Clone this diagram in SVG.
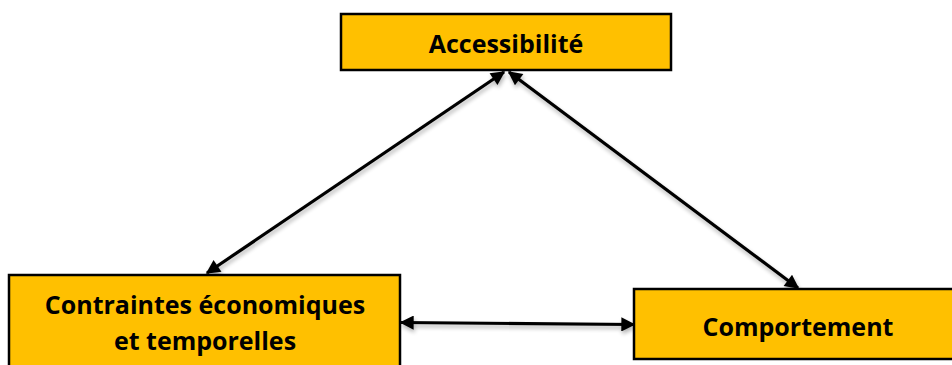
<svg xmlns="http://www.w3.org/2000/svg" width="952" height="365" viewBox="0 0 952 365">
<defs>
<style>
.box{fill:#FFC000;stroke:#000;stroke-width:2.5}
.lbl{font-family:"Open Sans","Noto Sans","DejaVu Sans",sans-serif;font-weight:bold;font-size:25px;fill:#000;text-anchor:middle}
.con{stroke:#000;stroke-width:3.2;fill:none;marker-start:url(#ah);marker-end:url(#ah)}
</style>
<marker id="ah" viewBox="0 0 10 10" refX="9" refY="5" markerWidth="5" markerHeight="4.4" orient="auto-start-reverse" markerUnits="strokeWidth">
<path d="M0,0 L10,5 L0,10 z" fill="#000"/>
</marker>
<filter id="sh" x="-10%" y="-10%" width="120%" height="130%">
<feGaussianBlur in="SourceAlpha" stdDeviation="2"/>
<feOffset dx="1" dy="3" result="b"/>
<feComponentTransfer><feFuncA type="linear" slope="0.3"/></feComponentTransfer>
<feMerge><feMergeNode/><feMergeNode in="SourceGraphic"/></feMerge>
</filter>
</defs>
<rect width="952" height="365" fill="#fff"/>
<g id="connectors" filter="url(#sh)">
<line class="con" x1="504" y1="72" x2="207" y2="273"/>
<line class="con" x1="509" y1="72" x2="798" y2="288"/>
<line class="con" x1="401" y1="322.5" x2="634" y2="324.5"/>
</g>
<g id="accessibilite">
<rect class="box" x="341" y="14" width="330" height="56"/>
<text class="lbl" x="506" y="53">Accessibilité</text>
</g>
<g id="contraintes">
<rect class="box" x="9" y="275" width="391" height="100"/>
<text class="lbl" x="205" y="314">Contraintes économiques</text>
<text class="lbl" x="205" y="350">et temporelles</text>
</g>
<g id="comportement">
<rect class="box" x="634" y="289" width="330" height="70"/>
<text class="lbl" x="798" y="336">Comportement</text>
</g>
</svg>
